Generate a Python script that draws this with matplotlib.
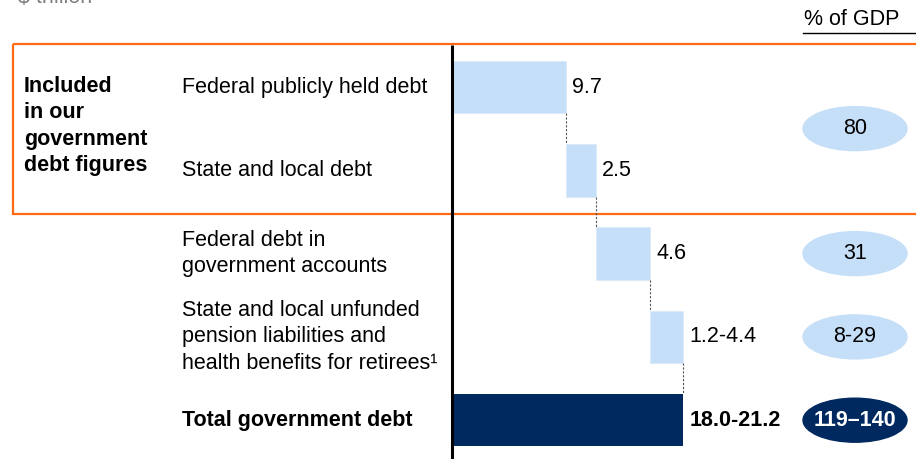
import numpy as np
import matplotlib.pyplot as plt
from matplotlib.patches import Ellipse, Rectangle

plt.rcParams['font.family'] = ['Liberation Sans', 'DejaVu Sans']

# Daten ($ trillion)
categories = ["Federal publicly held debt",
              "State and local debt",
              "Federal debt in\ngovernment accounts",
              "State and local unfunded\npension liabilities and\nhealth benefits for retirees\u00b9"]
values = [9.7, 2.5, 4.6, 2.8]          # letzte: Mitte von 1.2-4.4
value_labels = ["9.7", "2.5", "4.6", "1.2-4.4"]
total_name = "Total government debt"
total_label = "18.0-21.2"
gdp_labels = ["80", "31", "8-29", "119\u2013140"]
gdp_rows = [0.5, 2, 3, 4]

W, H = 916, 459
light = '#C6DFF8'
navy = '#002960'
orange = '#FF6A13'
fs = 15.5

fig = plt.figure(figsize=(W / 100, H / 100), dpi=100)
ax = fig.add_axes([0, 0, 1, 1])

# x: trillion, x=0 bei Pixel 452; y: Zeilenindex
scale = 11.8
x0 = 452
ax.set_xlim(-x0 / scale, (W - x0) / scale)
row0, drow = 87, 83.3
ax.set_ylim((H - row0) / drow, -row0 / drow)
ax.axis('off')

def fx(px):
    return (px - x0) / scale

def fy(py):
    return (py - row0) / drow

bh = 0.63
starts = np.concatenate([[0], np.cumsum(values)[:-1]])
ends = starts + np.array(values)
total = ends[-1]

for i, (s, v) in enumerate(zip(starts, values)):
    ax.barh(i, v, left=s, height=bh, color=light, edgecolor='#D8E8F8', linewidth=0.5)
    ax.text(s + v + 0.5, i, value_labels[i], va='center', ha='left', fontsize=fs)
    ax.text(fx(182), i, categories[i], va='center', ha='left', fontsize=fs,
            linespacing=1.35)
    # Verbindungslinien
    ax.plot([s + v, s + v], [i + bh / 2, i + 1 - bh / 2], color='#555555',
            linestyle=(0, (2, 1.5)), linewidth=0.8)

nt = len(values)
ax.barh(nt, total, left=0, height=bh, color=navy)
ax.text(total + 0.55, nt, total_label, va='center', ha='left', fontsize=fs,
        fontweight='bold')
ax.text(fx(182), nt, total_name, va='center', ha='left', fontsize=fs,
        fontweight='bold')

# Achsenlinie
ax.plot([0, 0], [fy(45), fy(H)], color='black', linewidth=2.2, solid_capstyle='butt')

# oranger Rahmen
ax.add_patch(Rectangle((fx(13), fy(44)), fx(930) - fx(13), fy(214) - fy(44),
                       fill=False, edgecolor=orange, linewidth=1.6))
ax.text(fx(24), fy(126), "Included\nin our\ngovernment\ndebt figures",
        va='center', ha='left', fontsize=fs, fontweight='bold', linespacing=1.35)

# % of GDP
ax.text(fx(852), fy(19), "% of GDP", ha='center', va='center', fontsize=fs)
ax.plot([fx(803), fx(W)], [fy(33), fy(33)], color='black', linewidth=1)

for r, lab in zip(gdp_rows, gdp_labels):
    dark = lab == gdp_labels[-1]
    ax.add_patch(Ellipse((fx(855), r), 104 / scale, 44 / drow,
                         color=navy if dark else light))
    ax.text(fx(855), r, lab, ha='center', va='center', fontsize=fs,
            color='white' if dark else 'black',
            fontweight='bold' if dark else 'normal')

ax.text(fx(18), fy(3), "$ trillion", ha='left', va='baseline', fontsize=fs,
        color='#7F7F7F')

fig.savefig('out.png', dpi=100)
